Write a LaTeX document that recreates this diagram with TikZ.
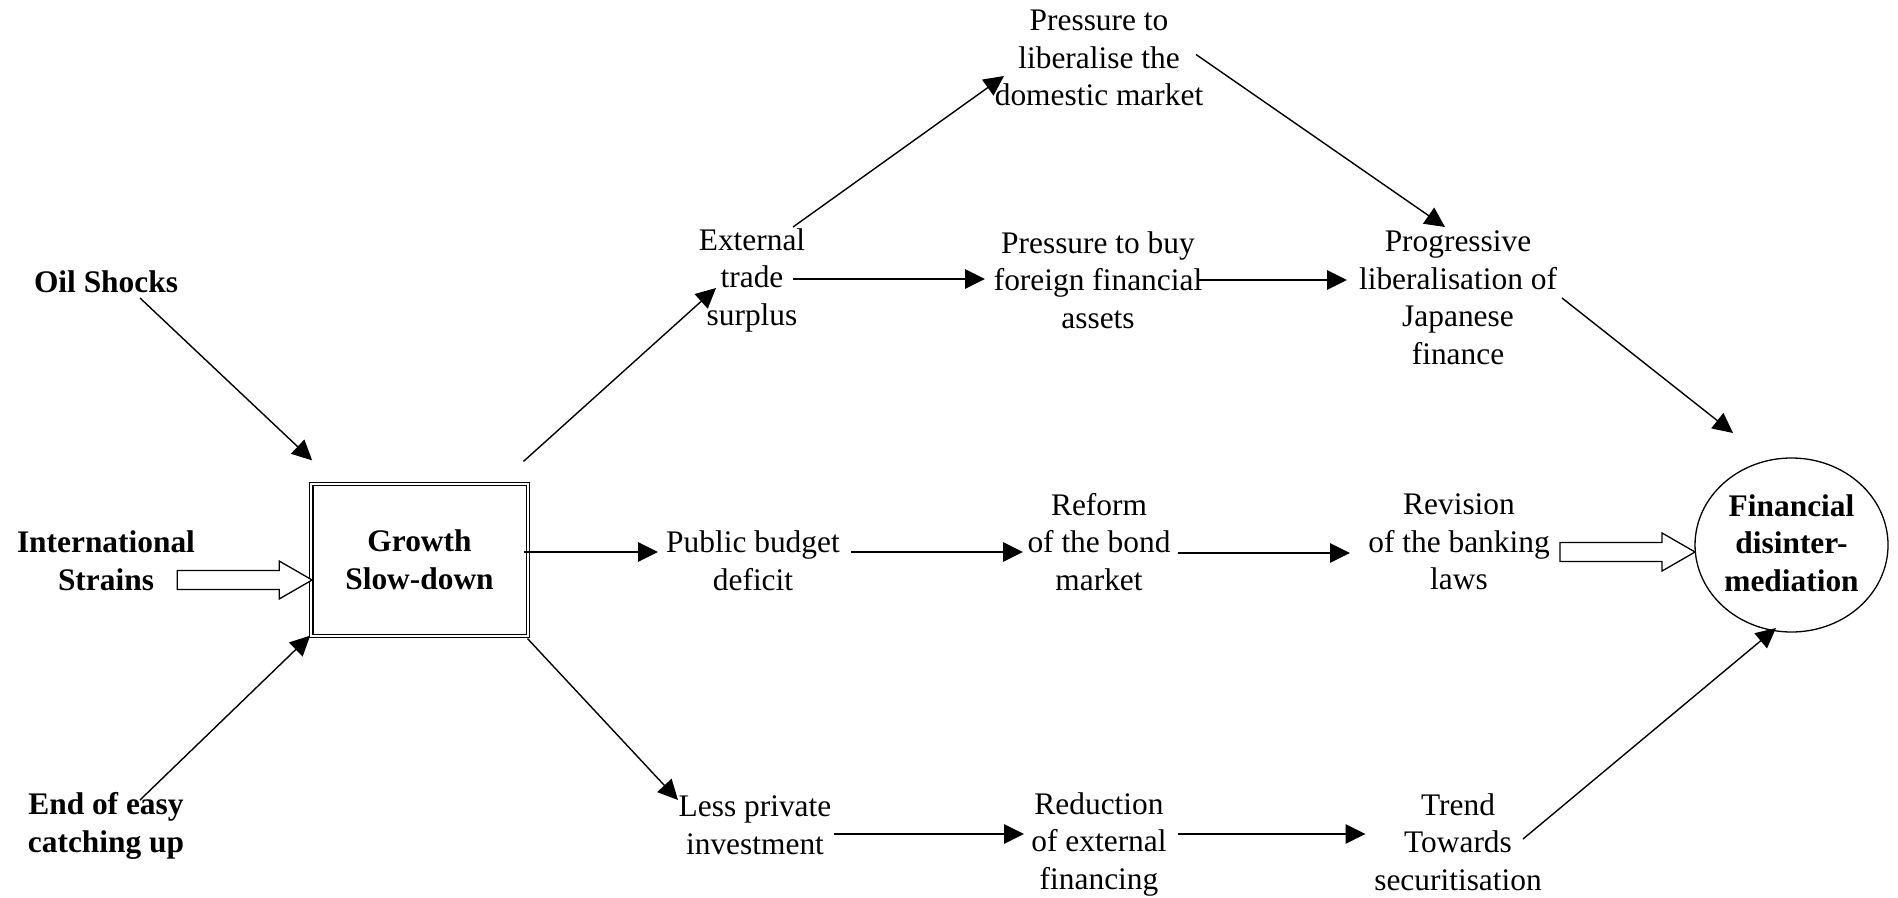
\documentclass[tikz,border=0pt]{standalone}
\usepackage{fontspec}
\setmainfont{Liberation Serif}
\usetikzlibrary{calc,arrows.meta,shapes.geometric}
\begin{document}
\begin{tikzpicture}[x=0.5pt,y=-0.5pt,
  txt/.style={align=center,inner sep=0pt,font=\fontsize{15.7}{18.75}\selectfont},
  btxt/.style={txt,font=\fontsize{15.7}{18.75}\selectfont\bfseries},
  arr/.style={line width=0.7pt,-{Triangle[length=10pt,width=9.7pt]}},
  hollow/.style={line width=0.65pt,fill=white,line join=miter}]
\useasboundingbox (0,0) rectangle (1898,898);
% left causes
\node[btxt] (oil) at (106,282) {Oil Shocks};
\node[btxt] (intl) at (106,561) {International\\Strains};
\node[btxt] (end) at (106,826) {End of easy\\catching up};
% central box
\node[btxt,draw,line width=0.65pt,double,double distance=1.1pt,
  minimum width=108.4pt,minimum height=76pt] (growth) at (419.5,560) {Growth\\Slow-down};
% middle columns
\node[txt] (ext) at (752,280) {External\\trade\\surplus};
\node[txt] (plib) at (1099,58) {Pressure to\\liberalise the\\domestic market};
\node[txt] (pbuy) at (1098,280) {Pressure to buy\\foreign financial\\assets};
\node[txt] (prog) at (1458,298) {Progressive\\liberalisation of\\Japanese\\finance};
\node[txt] (pub) at (753,561) {Public budget\\deficit};
\node[txt] (reform) at (1099,542) {Reform\\of the bond\\market};
\node[txt] (rev) at (1459,542) {Revision\\of the banking\\laws};
\node[txt] (less) at (755,825) {Less private\\investment};
\node[txt] (red) at (1099,844) {Reduction\\of external\\financing};
\node[txt] (trend) at (1458,842) {Trend\\Towards\\securitisation};
% outcome
\node[ellipse,draw,line width=0.65pt,inner sep=0pt,minimum width=96.5pt,minimum height=87pt] (fin) at (1791.5,545) {};
\node[btxt] (fintxt) at (1791.5,543) {Financial\\disinter-\\mediation};
% arrows into growth box
\draw[arr] ($(oil)+(34,16)$) -- ($(growth.north west)+(1.7,-23)$);
\draw[arr] ($(end)+(34,-26)$) -- ($(growth.south west)+(-0.3,-1)$);
\coordinate (t1) at ($(growth.west)+(1.7,20)$);
\draw[hollow] (t1) -- ++(-33,-19) -- ++(0,9.5) -- ++(-102,0) -- ++(0,19) -- ++(102,0) -- ++(0,9.5) -- cycle;
% arrows out of growth box
\draw[arr] ($(growth.north east)+(-5,-22)$) -- ($(ext)+(-36,8)$);
\draw[arr] ($(growth.east)+(-5,-8)$) -- ($(pub)+(-95,-9)$);
\draw[arr] ($(growth.south east)+(-1,2)$) -- ($(less)+(-77,-25)$);
% top rows
\draw[arr] ($(ext)+(41,-53)$) -- ($(plib)+(-95,18)$);
\draw[arr] ($(ext)+(41,-1)$) -- ($(pbuy)+(-113,-1)$);
\draw[arr] ($(pbuy)+(100,0)$) -- ($(prog)+(-111,-18)$);
\draw[arr] ($(plib)+(97,-3.5)$) -- ($(prog)+(-13,-71)$);
\draw[arr] ($(prog)+(104,0)$) -- ($(fin)+(-58.5,-112)$);
% middle row
\draw[arr] ($(pub)+(98,-9)$) -- ($(reform)+(-76,10)$);
\draw[arr] ($(reform)+(79,11)$) -- ($(rev)+(-109,11)$);
\coordinate (t2) at ($(fin.west)+(0.7,7)$);
\draw[hollow] (t2) -- ++(-33,-19) -- ++(0,9.5) -- ++(-102,0) -- ++(0,19) -- ++(102,0) -- ++(0,9.5) -- cycle;
% bottom row
\draw[arr] ($(less)+(79,9)$) -- ($(red)+(-75,-10)$);
\draw[arr] ($(red)+(79,-10)$) -- ($(trend)+(-92.5,-8)$);
\draw[arr] ($(trend)+(65,-3)$) -- ($(fin)+(-15.5,83)$);
\end{tikzpicture}
\end{document}
